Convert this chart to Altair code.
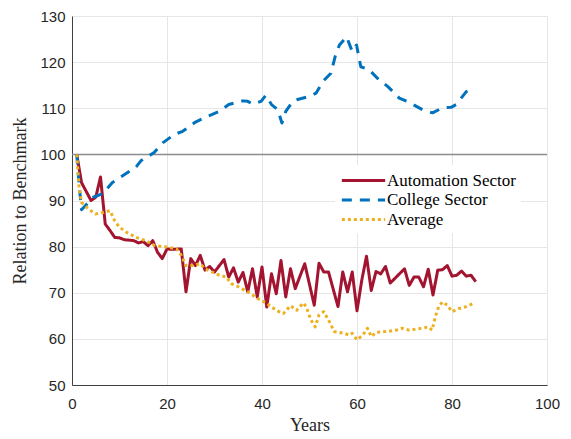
import altair as alt
import pandas as pd

# Automation Sector
auto_years = [1, 2, 4, 5, 6, 7, 8, 9, 10, 11, 13, 14, 15, 16, 17, 18, 19, 20, 21, 23,
               24, 25, 26, 27, 28, 29, 30, 32, 33, 34, 35, 36, 37, 38, 39, 40, 41, 42, 43, 44,
               45, 46, 47, 49, 51, 52, 53, 54, 56, 57, 58, 59, 60, 61, 62, 63, 64, 65, 66, 67,
               70, 71, 72, 73, 74, 75, 76, 77, 78, 79, 80, 81, 82, 83, 84, 85]
auto_vals = [100, 93.9, 90, 90.7, 95.1, 84.9, 83.5, 82, 81.9, 81.5, 81.3, 80.8, 81.1, 80.2, 81.3, 78.8, 77.4, 79.5, 79.4, 79.5,
             70.2, 77.4, 75.9, 78.1, 74.9, 75.7, 74.5, 77.2, 73.4, 75.4, 72.3, 74.4, 70.2, 75.2, 69.1, 75.6, 66.9, 74.1, 69.8, 77,
             69.1, 75.2, 70.9, 76.3, 67.3, 76.4, 74.5, 74.5, 67, 74.5, 70.2, 74.5, 66.1, 72.7, 77.9, 70.5, 74.6, 74.1, 75.7, 72.1,
             75.2, 71.6, 73.4, 73.4, 71.3, 75.1, 69.5, 74.9, 75, 75.9, 73.6, 73.8, 74.7, 73.6, 73.8, 72.4]

# College Sector
coll_years = [1, 1.5, 2, 4.5, 6.5, 8.5, 10.3, 13.5, 14.5, 17.3, 19.1, 21.5, 23.3, 26, 28, 31, 33, 36, 37, 38,
              39.8, 40.8, 42, 43.3, 44.2, 45, 46.5, 47.5, 50, 51.4, 52.8, 54.5, 55.4, 56.3, 57.8, 59, 59.9, 60.8, 62.6, 64.3,
              66.5, 68.9, 70.7, 73.8, 75.9, 78, 79.8, 80.9, 83, 84.5]
coll_vals = [100, 93.5, 88, 90.7, 91.5, 93.9, 95.1, 97.3, 98.6, 100.4, 102.5, 104.3, 105, 107, 108, 109.3, 110.8, 111.6, 111.5, 110.9,
             111.5, 112.8, 110.8, 109.7, 106.8, 109.3, 111.5, 111.9, 112.6, 113.3, 115.8, 117.6, 121.2, 123.7, 125.5, 122.3, 123.7, 119, 118.3, 116.5,
             114.7, 112.2, 111.4, 109.7, 109, 110.1, 110.2, 110.8, 113.6, 114.2]

# Average
avg_years = [1, 1.5, 2, 3.5, 5, 6.5, 8, 9, 10, 11.5, 13.5, 15.5, 17.5, 20, 22, 23, 24, 25.5, 27, 28,
             29.5, 31, 32.5, 33.5, 35, 37, 39, 41, 43, 44.5, 46, 47.3, 48.7, 49.3, 50.3, 51.2, 52, 53, 54.2, 55.2,
             56.3, 57.3, 58.4, 59, 60, 61.2, 62.2, 63, 64, 66, 68, 69.5, 71, 72.3, 73.7, 75, 75.8, 76.5, 77.2, 78,
             79, 80, 81.5, 83, 84.5]
avg_vals = [100, 92.8, 89.6, 88.1, 87.1, 87.4, 87.8, 85.6, 84.2, 83.1, 82, 81.3, 80.2, 79.9, 79.5, 78.1, 75.9, 75.9, 76.3, 75.2,
            74.5, 73.8, 73.4, 72, 71.3, 70.2, 68.8, 67.7, 66.2, 65.5, 67.2, 66.2, 67.8, 67, 64.1, 62.6, 65.2, 65.9, 63.7, 61.6,
            61.4, 61.2, 60.8, 61.2, 59.8, 60.8, 62.3, 60.5, 61.4, 61.6, 61.8, 62.3, 61.9, 62.1, 62.3, 62.6, 61.9, 64.8, 67, 68,
            67.3, 65.9, 66.6, 67, 67.7]

series_names = ["Automation Sector", "College Sector", "Average"]
series_colors = ["#A2142F", "#0072BD", "#EDB120"]
series_dashes = [[1, 0], [10, 8], [3, 3]]
benchmark = [100]
x_ticks = [0, 20, 40, 60, 80, 100]
y_ticks = [50, 60, 70, 80, 90, 100, 110, 120, 130]

rows = []
for name, xs, ys in zip(series_names, [auto_years, coll_years, avg_years], [auto_vals, coll_vals, avg_vals]):
    for i, (x, y) in enumerate(zip(xs, ys)):
        rows.append({"Series": name, "Year": x, "Value": y, "order": i})
df = pd.DataFrame(rows)

serif = "Liberation Serif"
sans = "Liberation Sans"

yscale = alt.Scale(domain=[50, 130], nice=False, zero=False)
xscale = alt.Scale(domain=[0, 100], nice=False)

legend = alt.Legend(
    title=None, orient="none", legendX=263, legendY=149,
    fillColor="white", padding=5, symbolType="M-2.5,0L2.5,0", symbolSize=300,
    symbolStrokeWidth=3, labelFont=serif, labelFontSize=17, labelColor="#000",
    rowPadding=0.5, labelOffset=13, symbolOffset=13,
)

lines = alt.Chart(df).mark_line(strokeWidth=3, strokeCap="butt", strokeJoin="round").encode(
    x=alt.X("Year:Q", scale=xscale, axis=alt.Axis(values=x_ticks, title="Years")),
    y=alt.Y("Value:Q", scale=yscale, axis=alt.Axis(values=y_ticks, title="Relation to Benchmark")),
    color=alt.Color("Series:N", scale=alt.Scale(domain=series_names, range=series_colors), legend=legend),
    strokeDash=alt.StrokeDash("Series:N", scale=alt.Scale(domain=series_names, range=series_dashes), legend=legend),
    order="order:Q",
)

rule = alt.Chart(pd.DataFrame({"y": benchmark})).mark_rule(color="#8c8c8c", strokeWidth=1.5).encode(
    y=alt.Y("y:Q", scale=yscale)
)

chart = alt.layer(rule, lines).properties(
    width=475, height=369,
    autosize=alt.AutoSizeParams(type="none"),
    padding={"left": 64, "top": 8, "right": 16, "bottom": 52},
).configure_view(stroke="#e3e3e3", strokeWidth=1).configure_axis(
    grid=True, gridColor="#e6e6e6", gridWidth=1,
    domainColor="#404040", domainWidth=1, ticks=False, labelFlush=False,
    labelFont=sans, labelFontSize=15, labelColor="#262626",
    titleFont=serif, titleFontSize=18, titleFontWeight="normal", titleColor="#262626",
).configure_axisX(labelPadding=11, titlePadding=5).configure_axisY(labelPadding=7, titlePadding=10)

chart.save("out.html", embed_options={"renderer": "svg", "actions": False})
